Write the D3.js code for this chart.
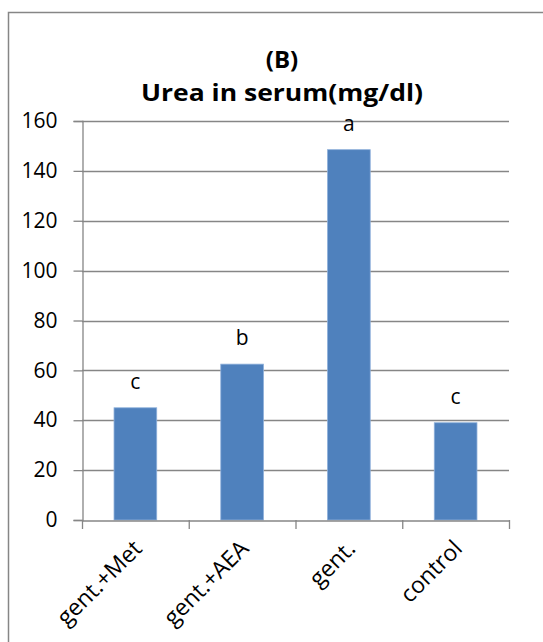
<!DOCTYPE html>
<html><head><meta charset="utf-8">
<script src="https://cdn.jsdelivr.net/npm/d3@7"></script>
<style>body{margin:0;background:#fff}svg{display:block}</style>
</head><body>
<script>
const categories = ["gent.+Met", "gent.+AEA", "gent.", "control"];
const values = [45, 62.5, 148.5, 39];
const letters = ["c", "b", "a", "c"];
const yTicks = [0, 20, 40, 60, 80, 100, 120, 140, 160];
const titleLines = ["(B)", "Urea in serum(mg/dl)"];

const W = 543, H = 642;
const font = "'Open Sans', Lato, sans-serif";
const svg = d3.select("body").append("svg").attr("width", W).attr("height", H);
svg.append("rect").attr("x", 8.5).attr("y", 12.5).attr("width", 560).attr("height", 660)
  .attr("fill", "#fff").attr("stroke", "#868686").attr("stroke-width", 1.5);

const x = d3.scaleBand().domain(categories).range([82, 509]).paddingInner(0.6).paddingOuter(0.3);
const y = d3.scaleLinear().domain([0, 160]).range([520, 121]);

// gridlines
svg.append("g").selectAll("line").data(yTicks.slice(1)).join("line")
  .attr("x1", 82).attr("x2", 509).attr("y1", d => Math.round(y(d)) + 0.5).attr("y2", d => Math.round(y(d)) + 0.5)
  .attr("stroke", "#868686").attr("stroke-width", 1.3);

// y axis
const ya = svg.append("g").attr("transform", "translate(82.5,0)")
  .call(d3.axisLeft(y).tickValues(yTicks).tickSize(9).tickPadding(16));
ya.selectAll("path,line").attr("stroke", "#868686").attr("stroke-width", 1.3);
ya.selectAll("text").attr("font-family", font).attr("font-size", 21).attr("fill", "#000");

// bars
svg.append("g").selectAll("rect").data(values).join("rect")
  .attr("x", (d, i) => x(categories[i])).attr("width", x.bandwidth())
  .attr("y", d => y(d)).attr("height", d => y(0) - y(d))
  .attr("fill", "#4f81bd").attr("stroke", "#8eb0da").attr("stroke-width", 0.8);

// x axis
const xBand = d3.scaleBand().domain(categories).range([82, 509]);
const xa = svg.append("g").attr("transform", "translate(0,520.5)")
  .call(d3.axisBottom(xBand).tickSize(0).tickFormat(""));
xa.select("path").attr("stroke", "#868686").attr("stroke-width", 1.3);
const edges = categories.map(c => xBand(c)).concat([509]);
svg.append("g").selectAll("line").data(edges).join("line")
  .attr("x1", d => d + 0.5).attr("x2", d => d + 0.5).attr("y1", 520).attr("y2", 529)
  .attr("stroke", "#868686").attr("stroke-width", 1.3);
svg.append("g").selectAll("text").data(categories).join("text")
  .attr("transform", d => `translate(${xBand(d) + xBand.bandwidth() / 2 + 8},${550}) rotate(-45)`)
  .attr("text-anchor", "end").attr("font-family", font).attr("font-size", 23).attr("fill", "#000")
  .text(d => d);

// letters
svg.append("g").selectAll("text").data(values).join("text")
  .attr("x", (d, i) => x(categories[i]) + x.bandwidth() / 2).attr("y", d => y(d) - 19)
  .attr("text-anchor", "middle").attr("font-family", font).attr("font-size", 21).attr("fill", "#000")
  .text((d, i) => letters[i]);

// title
const tt = svg.append("g").selectAll("text").data(titleLines).join("text")
  .attr("x", 282).attr("y", (d, i) => 68 + i * 33)
  .attr("text-anchor", "middle").attr("font-family", font).attr("font-weight", "bold")
  .attr("font-size", 24).attr("fill", "#000").text(d => d);
tt.filter((d, i) => i === 1).attr("textLength", 282).attr("lengthAdjust", "spacingAndGlyphs");
</script>
</body></html>
